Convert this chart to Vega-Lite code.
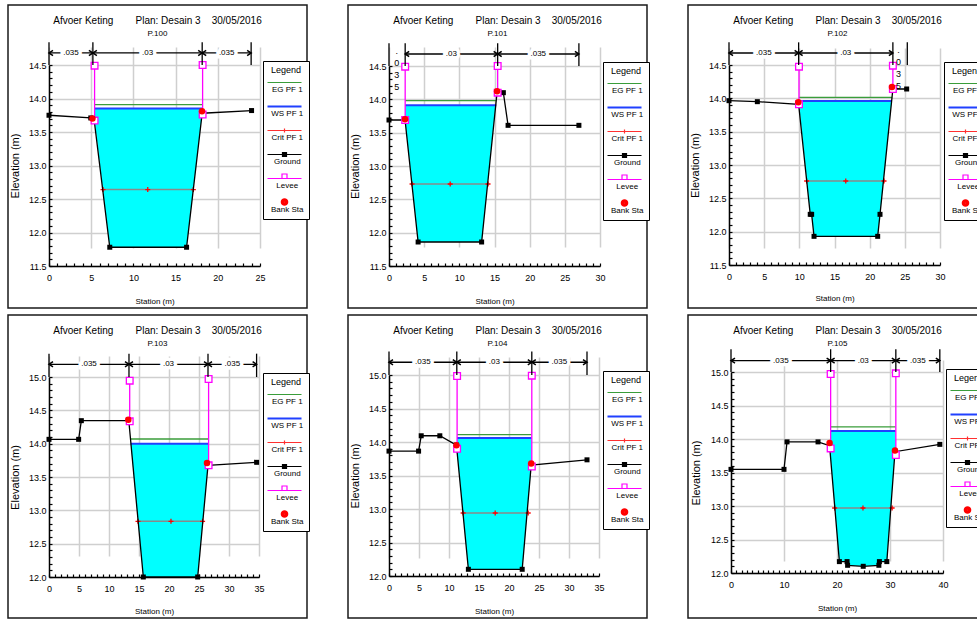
{
"$schema": "https://vega.github.io/schema/vega-lite/v6.json",
"padding": {"left": 7, "top": 4, "right": 0, "bottom": 0},
"background": "white",
"config": {
  "view": {"stroke": "#1a1a1a", "strokeWidth": 1.5, "fill": "white"},
  "font": "Liberation Sans, sans-serif",
  "axis": {"domainColor": "black", "domainWidth": 1.5, "tickColor": "black", "tickWidth": 1.2, "tickSize": -3, "tickCount": 1000, "labelFont": "Liberation Sans, sans-serif", "labelFontSize": 9, "labelColor": "black", "labelOverlap": false, "labelFlush": false, "gridColor": "#cfcfcf", "gridWidth": 1.5, "titleFont": "Liberation Sans, sans-serif", "titleFontSize": 8, "titleFontWeight": "normal", "titleColor": "black"},
  "title": {"anchor": "middle", "frame": "group", "offset": -33, "fontSize": 10, "fontWeight": "normal", "color": "black", "font": "Liberation Sans, sans-serif", "subtitleFont": "Liberation Sans, sans-serif", "subtitleFontSize": 8, "subtitleColor": "black", "subtitlePadding": 4},
  "legend": {"orient": "none", "direction": "vertical", "padding": 5, "strokeColor": "black", "fillColor": "white", "titleFontSize": 9, "titleFontWeight": "normal", "titleColor": "black", "titleAnchor": "middle", "titlePadding": 0, "labelFontSize": 8, "labelColor": "black", "labelAlign": "center", "labelBaseline": "top", "labelOffset": -8.25, "symbolOffset": 5.5, "symbolSize": 400, "symbolStrokeWidth": 1.2, "rowPadding": 5}
},
"data": {"values": [
{"p":1,"k":"g","s":0,"e":13.75},{"p":1,"k":"g","s":4.95,"e":13.71},{"p":1,"k":"g","s":5.35,"e":13.68},{"p":1,"k":"g","s":7.2,"e":11.78},{"p":1,"k":"g","s":16.3,"e":11.78},{"p":1,"k":"g","s":18.15,"e":13.78},{"p":1,"k":"g","s":24,"e":13.82},
{"p":1,"k":"w","s":5.4,"e":13.67,"e2":13.85},{"p":1,"k":"w","s":7.2,"e":11.78,"e2":13.85},{"p":1,"k":"w","s":16.3,"e":11.78,"e2":13.85},{"p":1,"k":"w","s":18.15,"e":13.78,"e2":13.85},{"p":1,"k":"w","s":18.2,"e":13.78,"e2":13.85},
{"p":1,"k":"ws","s":5.4,"s2":18.2,"e":13.85},{"p":1,"k":"eg","s":5.4,"s2":18.2,"e":13.91},
{"p":1,"k":"c","s":6.4,"e":12.64},{"p":1,"k":"c","s":11.7,"e":12.64},{"p":1,"k":"c","s":17.1,"e":12.64},
{"p":1,"k":"lv","s":5.4,"e":13.67,"e2":14.49},{"p":1,"k":"lv","s":18.2,"e":13.76,"e2":14.5},
{"p":1,"k":"b","s":5.15,"e":13.7},{"p":1,"k":"b","s":18.13,"e":13.81},
{"p":1,"k":"nb","s":0,"e":14.5,"e2":14.84},{"p":1,"k":"nb","s":5.2,"e":14.5,"e2":14.84},{"p":1,"k":"nb","s":18.15,"e":14.5,"e2":14.84},{"p":1,"k":"nb","s":23.95,"e":14.5,"e2":14.84},
{"p":1,"k":"ns","s":0,"s2":5.2,"e":14.68,"n":".035"},{"p":1,"k":"ns","s":5.2,"s2":18.15,"e":14.68,"n":".03"},{"p":1,"k":"ns","s":18.15,"s2":23.95,"e":14.68,"n":".035"},

{"p":2,"k":"g","s":0,"e":13.69},{"p":2,"k":"g","s":2.28,"e":13.69},{"p":2,"k":"g","s":4.14,"e":11.86},{"p":2,"k":"g","s":13.17,"e":11.86},{"p":2,"k":"g","s":15.36,"e":14.1},{"p":2,"k":"g","s":16.26,"e":14.1},{"p":2,"k":"g","s":16.93,"e":13.61},{"p":2,"k":"g","s":27,"e":13.61},
{"p":2,"k":"w","s":2.3,"e":13.69,"e2":13.91},{"p":2,"k":"w","s":4.14,"e":11.86,"e2":13.91},{"p":2,"k":"w","s":13.17,"e":11.86,"e2":13.91},{"p":2,"k":"w","s":15.17,"e":13.91,"e2":13.91},
{"p":2,"k":"ws","s":2.3,"s2":15.25,"e":13.91},{"p":2,"k":"eg","s":2.3,"s2":15.25,"e":13.98},
{"p":2,"k":"c","s":3.28,"e":12.73},{"p":2,"k":"c","s":8.7,"e":12.73},{"p":2,"k":"c","s":14.08,"e":12.73},
{"p":2,"k":"lv","s":2.3,"e":13.69,"e2":14.49},{"p":2,"k":"lv","s":15.45,"e":14.1,"e2":14.5},
{"p":2,"k":"b","s":2.28,"e":13.7},{"p":2,"k":"b","s":15.36,"e":14.12},
{"p":2,"k":"nb","s":0,"e":14.5,"e2":14.84},{"p":2,"k":"nb","s":2.3,"e":14.5,"e2":14.84},{"p":2,"k":"nb","s":15.45,"e":14.5,"e2":14.84},{"p":2,"k":"nb","s":27,"e":14.5,"e2":14.84},
{"p":2,"k":"ns","s":2.3,"s2":15.45,"e":14.68,"n":".03"},{"p":2,"k":"ns","s":15.45,"s2":27,"e":14.68,"n":".035"},
{"p":2,"k":"nv","s":1.1,"e":14.78,"n":".035"},

{"p":3,"k":"g","s":0,"e":13.965},{"p":3,"k":"g","s":4.03,"e":13.95},{"p":3,"k":"g","s":9.9,"e":13.91},{"p":3,"k":"g","s":11.55,"e":12.26},{"p":3,"k":"g","s":11.75,"e":12.26},{"p":3,"k":"g","s":12.09,"e":11.93},{"p":3,"k":"g","s":21.14,"e":11.93},{"p":3,"k":"g","s":21.47,"e":12.26},{"p":3,"k":"g","s":23.3,"e":14.14},{"p":3,"k":"g","s":25.26,"e":14.14},
{"p":3,"k":"w","s":9.95,"e":13.91,"e2":13.96},{"p":3,"k":"w","s":11.55,"e":12.26,"e2":13.96},{"p":3,"k":"w","s":11.75,"e":12.26,"e2":13.96},{"p":3,"k":"w","s":12.09,"e":11.93,"e2":13.96},{"p":3,"k":"w","s":21.14,"e":11.93,"e2":13.96},{"p":3,"k":"w","s":21.47,"e":12.26,"e2":13.96},{"p":3,"k":"w","s":23.12,"e":13.96,"e2":13.96},
{"p":3,"k":"ws","s":9.95,"s2":23.15,"e":13.96},{"p":3,"k":"eg","s":9.95,"s2":23.2,"e":14.015},
{"p":3,"k":"c","s":11.04,"e":12.76},{"p":3,"k":"c","s":16.6,"e":12.76},{"p":3,"k":"c","s":22.04,"e":12.76},
{"p":3,"k":"lv","s":9.95,"e":13.91,"e2":14.475},{"p":3,"k":"lv","s":23.3,"e":14.14,"e2":14.49},
{"p":3,"k":"b","s":9.85,"e":13.94},{"p":3,"k":"b","s":23.17,"e":14.17},
{"p":3,"k":"nb","s":0,"e":14.5,"e2":14.84},{"p":3,"k":"nb","s":9.9,"e":14.5,"e2":14.84},{"p":3,"k":"nb","s":23.3,"e":14.5,"e2":14.84},{"p":3,"k":"nb","s":25.35,"e":14.5,"e2":14.84},
{"p":3,"k":"ns","s":0,"s2":9.9,"e":14.68,"n":".035"},{"p":3,"k":"ns","s":9.9,"s2":23.3,"e":14.68,"n":".03"},
{"p":3,"k":"nv","s":24.1,"e":14.78,"n":".035"},

{"p":4,"k":"g","s":0,"e":14.065},{"p":4,"k":"g","s":4.94,"e":14.065},{"p":4,"k":"g","s":5.39,"e":14.345},{"p":4,"k":"g","s":13.3,"e":14.345},{"p":4,"k":"g","s":15.72,"e":12},{"p":4,"k":"g","s":24.78,"e":12},{"p":4,"k":"g","s":26.5,"e":13.675},{"p":4,"k":"g","s":34.6,"e":13.72},
{"p":4,"k":"w","s":13.62,"e":14,"e2":14},{"p":4,"k":"w","s":15.72,"e":12,"e2":14},{"p":4,"k":"w","s":24.78,"e":12,"e2":14},{"p":4,"k":"w","s":26.5,"e":13.675,"e2":14},{"p":4,"k":"w","s":26.6,"e":13.68,"e2":14},
{"p":4,"k":"ws","s":13.62,"s2":26.6,"e":14},{"p":4,"k":"eg","s":13.62,"s2":26.6,"e":14.07},
{"p":4,"k":"c","s":14.83,"e":12.835},{"p":4,"k":"c","s":20.33,"e":12.835},{"p":4,"k":"c","s":25.6,"e":12.835},
{"p":4,"k":"lv","s":13.45,"e":14.335,"e2":14.945},{"p":4,"k":"lv","s":26.6,"e":13.675,"e2":14.97},
{"p":4,"k":"b","s":13.22,"e":14.36},{"p":4,"k":"b","s":26.33,"e":13.71},
{"p":4,"k":"nb","s":0,"e":15,"e2":15.35},{"p":4,"k":"nb","s":13.33,"e":15,"e2":15.35},{"p":4,"k":"nb","s":26.5,"e":15,"e2":15.35},{"p":4,"k":"nb","s":34.6,"e":15,"e2":15.35},
{"p":4,"k":"ns","s":0,"s2":13.33,"e":15.19,"n":".035"},{"p":4,"k":"ns","s":13.33,"s2":26.5,"e":15.19,"n":".03"},{"p":4,"k":"ns","s":26.5,"s2":34.6,"e":15.19,"n":".035"},

{"p":5,"k":"g","s":0,"e":13.864},{"p":5,"k":"g","s":4.93,"e":13.864},{"p":5,"k":"g","s":5.37,"e":14.093},{"p":5,"k":"g","s":8.47,"e":14.093},{"p":5,"k":"g","s":11.24,"e":13.954},{"p":5,"k":"g","s":13.23,"e":12.1},{"p":5,"k":"g","s":22.2,"e":12.1},{"p":5,"k":"g","s":23.7,"e":13.655},{"p":5,"k":"g","s":33,"e":13.734},
{"p":5,"k":"w","s":11.35,"e":13.85,"e2":14.06},{"p":5,"k":"w","s":13.23,"e":12.1,"e2":14.06},{"p":5,"k":"w","s":22.2,"e":12.1,"e2":14.06},{"p":5,"k":"w","s":23.75,"e":13.66,"e2":14.06},
{"p":5,"k":"ws","s":11.35,"s2":23.75,"e":14.06},{"p":5,"k":"eg","s":11.35,"s2":23.75,"e":14.11},
{"p":5,"k":"c","s":12.35,"e":12.94},{"p":5,"k":"c","s":17.7,"e":12.94},{"p":5,"k":"c","s":23.2,"e":12.94},
{"p":5,"k":"lv","s":11.35,"e":13.9,"e2":14.985},{"p":5,"k":"lv","s":23.8,"e":13.635,"e2":14.99},
{"p":5,"k":"b","s":11.24,"e":13.95},{"p":5,"k":"b","s":23.7,"e":13.68},
{"p":5,"k":"nb","s":0,"e":15,"e2":15.35},{"p":5,"k":"nb","s":11.3,"e":15,"e2":15.35},{"p":5,"k":"nb","s":23.8,"e":15,"e2":15.35},{"p":5,"k":"nb","s":33,"e":15,"e2":15.35},
{"p":5,"k":"ns","s":0,"s2":11.3,"e":15.19,"n":".035"},{"p":5,"k":"ns","s":11.3,"s2":23.8,"e":15.19,"n":".03"},{"p":5,"k":"ns","s":23.8,"s2":33,"e":15.19,"n":".035"},

{"p":6,"k":"g","s":0,"e":13.547},{"p":6,"k":"g","s":10,"e":13.547},{"p":6,"k":"g","s":10.57,"e":13.957},{"p":6,"k":"g","s":16.42,"e":13.957},{"p":6,"k":"g","s":18.6,"e":13.9},{"p":6,"k":"g","s":20.45,"e":12.17},{"p":6,"k":"g","s":21.9,"e":12.17},{"p":6,"k":"g","s":22,"e":12.115},{"p":6,"k":"g","s":24.95,"e":12.1},{"p":6,"k":"g","s":27.9,"e":12.115},{"p":6,"k":"g","s":28,"e":12.17},{"p":6,"k":"g","s":29.4,"e":12.17},{"p":6,"k":"g","s":30.94,"e":13.81},{"p":6,"k":"g","s":39.4,"e":13.92},
{"p":6,"k":"w","s":18.8,"e":13.72,"e2":14.12},{"p":6,"k":"w","s":20.45,"e":12.17,"e2":14.12},{"p":6,"k":"w","s":21.9,"e":12.17,"e2":14.12},{"p":6,"k":"w","s":22,"e":12.115,"e2":14.12},{"p":6,"k":"w","s":24.95,"e":12.1,"e2":14.12},{"p":6,"k":"w","s":27.9,"e":12.115,"e2":14.12},{"p":6,"k":"w","s":28,"e":12.17,"e2":14.12},{"p":6,"k":"w","s":29.4,"e":12.17,"e2":14.12},{"p":6,"k":"w","s":30.94,"e":13.81,"e2":14.12},{"p":6,"k":"w","s":31.05,"e":13.81,"e2":14.12},
{"p":6,"k":"ws","s":18.8,"s2":31.05,"e":14.12},{"p":6,"k":"eg","s":18.8,"s2":31.05,"e":14.18},
{"p":6,"k":"c","s":19.56,"e":12.97},{"p":6,"k":"c","s":24.9,"e":12.97},{"p":6,"k":"c","s":30.4,"e":12.97},
{"p":6,"k":"lv","s":18.8,"e":13.86,"e2":14.97},{"p":6,"k":"lv","s":31.1,"e":13.76,"e2":14.98},
{"p":6,"k":"b","s":18.6,"e":13.94},{"p":6,"k":"b","s":30.94,"e":13.83},
{"p":6,"k":"nb","s":0,"e":15,"e2":15.34},{"p":6,"k":"nb","s":18.8,"e":15,"e2":15.34},{"p":6,"k":"nb","s":31.1,"e":15,"e2":15.34},{"p":6,"k":"nb","s":39.4,"e":15,"e2":15.34},
{"p":6,"k":"ns","s":0,"s2":18.8,"e":15.17,"n":".035"},{"p":6,"k":"ns","s":18.8,"s2":31.1,"e":15.17,"n":".03"},{"p":6,"k":"ns","s":31.1,"s2":39.4,"e":15.17,"n":".035"}
]},
"spacing": 5,
"resolve": {"scale": {"color": "independent", "shape": "independent"}, "legend": {"color": "independent", "shape": "independent"}},
"vconcat": [
{"spacing": 41, "bounds": "flush",
 "resolve": {"scale": {"color": "independent", "shape": "independent"}, "legend": {"color": "independent", "shape": "independent"}},
 "hconcat": [
{"width": 299, "height": 303,
 "title": {"text": "Afvoer Keting\u00a0\u00a0\u00a0\u00a0\u00a0\u00a0\u00a0\u00a0Plan: Desain 3\u00a0\u00a0\u00a0\u00a030/05/2016", "subtitle": "P.100"},
 "transform": [{"filter": "datum.p==1"}],
 "layer": [
  {"transform": [{"filter": "datum.k=='w'"}], "mark": {"type": "area", "color": "#00ffff", "opacity": 1},
   "encoding": {
    "x": {"field": "s", "type": "quantitative", "scale": {"domain": [0, 25], "range": [41, 252], "nice": false, "zero": false},
      "axis": {"title": "Station (m)", "offset": -42, "values": [0,1,2,3,4,5,6,7,8,9,10,11,12,13,14,15,16,17,18,19,20,21,22,23,24,25], "labelExpr": "datum.value % 5 === 0 ? format(datum.value,'d') : ''", "gridOpacity": {"condition": {"test": "datum.value % 5 === 0", "value": 1}, "value": 0}, "labelPadding": 10, "titleY": 35, "titleBaseline": "middle"}},
    "y": {"field": "e", "type": "quantitative", "scale": {"domain": [11.5, 14.5], "range": [261, 60], "nice": false, "zero": false},
      "axis": {"title": "Elevation  (m)", "titleFontSize": 11, "offset": -41, "values": [11.5,11.6,11.7,11.8,11.9,12,12.1,12.2,12.3,12.4,12.5,12.6,12.7,12.8,12.9,13,13.1,13.2,13.3,13.4,13.5,13.6,13.7,13.8,13.9,14,14.1,14.2,14.3,14.4,14.5], "labelExpr": "abs(datum.value*2-round(datum.value*2))<0.01 ? format(datum.value,'.1f') : ''", "gridOpacity": {"condition": {"test": "abs(datum.value*2-round(datum.value*2))<0.01", "value": 1}, "value": 0}, "labelPadding": 6, "titleX": -34, "titleBaseline": "middle"}},
    "y2": {"field": "e2"}}},
  {"transform": [{"filter": "datum.k=='c'"}], "mark": {"type": "line", "color": "#8a8a8a", "strokeWidth": 1.5, "point": {"shape": "M-1,0H1M0,-1V1", "filled": false, "color": "#ff0000", "size": 25, "strokeWidth": 1.3}}, "encoding": {"x": {"field": "s", "type": "quantitative"}, "y": {"field": "e", "type": "quantitative"}}},
  {"transform": [{"filter": "datum.k=='ws'"}], "mark": {"type": "rule", "color": "#2040ff", "strokeWidth": 2}, "encoding": {"x": {"field": "s", "type": "quantitative"}, "x2": {"field": "s2"}, "y": {"field": "e", "type": "quantitative"}}},
  {"transform": [{"filter": "datum.k=='eg'"}], "mark": {"type": "rule", "color": "#3a9d3a", "strokeWidth": 1.3}, "encoding": {"x": {"field": "s", "type": "quantitative"}, "x2": {"field": "s2"}, "y": {"field": "e", "type": "quantitative"}}},
  {"transform": [{"filter": "datum.k=='g'"}], "mark": {"type": "line", "color": "black", "strokeWidth": 1.3, "point": {"shape": "square", "filled": true, "color": "black", "size": 25}}, "encoding": {"x": {"field": "s", "type": "quantitative"}, "y": {"field": "e", "type": "quantitative"}}},
  {"transform": [{"filter": "datum.k=='lv'"}], "mark": {"type": "rule", "color": "#ff00ff", "strokeWidth": 1.3}, "encoding": {"x": {"field": "s", "type": "quantitative"}, "y": {"field": "e", "type": "quantitative"}, "y2": {"field": "e2"}}},
  {"transform": [{"filter": "datum.k=='lv'"}, {"fold": ["e", "e2"], "as": ["end", "ev"]}], "mark": {"type": "point", "shape": "square", "filled": true, "fill": "white", "stroke": "#ff00ff", "strokeWidth": 1.3, "size": 45, "opacity": 1}, "encoding": {"x": {"field": "s", "type": "quantitative"}, "y": {"field": "ev", "type": "quantitative"}}},
  {"transform": [{"filter": "datum.k=='b'"}], "mark": {"type": "point", "shape": "circle", "filled": true, "color": "#ff0000", "size": 42, "opacity": 1}, "encoding": {"x": {"field": "s", "type": "quantitative"}, "y": {"field": "e", "type": "quantitative"}}},
  {"transform": [{"filter": "datum.k=='nb'"}], "mark": {"type": "rule", "color": "black", "strokeWidth": 1.3}, "encoding": {"x": {"field": "s", "type": "quantitative"}, "y": {"field": "e", "type": "quantitative"}, "y2": {"field": "e2"}}},
  {"transform": [{"filter": "datum.k=='ns'"}], "mark": {"type": "rule", "color": "black", "strokeWidth": 1.3}, "encoding": {"x": {"field": "s", "type": "quantitative"}, "x2": {"field": "s2"}, "y": {"field": "e", "type": "quantitative"}}},
  {"transform": [{"filter": "datum.k=='ns'"}], "mark": {"type": "point", "shape": "M2,-1.3L0,0L2,1.3", "filled": false, "color": "black", "strokeWidth": 1.5, "size": 16, "opacity": 1}, "encoding": {"x": {"field": "s", "type": "quantitative"}, "y": {"field": "e", "type": "quantitative"}}},
  {"transform": [{"filter": "datum.k=='ns'"}], "mark": {"type": "point", "shape": "M-2,-1.3L0,0L-2,1.3", "filled": false, "color": "black", "strokeWidth": 1.5, "size": 16, "opacity": 1}, "encoding": {"x": {"field": "s2", "type": "quantitative"}, "y": {"field": "e", "type": "quantitative"}}},
  {"transform": [{"filter": "datum.k=='ns'"}, {"calculate": "(datum.s+datum.s2)/2", "as": "sm"}], "mark": {"type": "text", "fontSize": 8, "fill": "white", "stroke": "white", "strokeWidth": 7, "baseline": "middle"}, "encoding": {"x": {"field": "sm", "type": "quantitative"}, "y": {"field": "e", "type": "quantitative"}, "text": {"field": "n"}}},
  {"transform": [{"filter": "datum.k=='ns'"}, {"calculate": "(datum.s+datum.s2)/2", "as": "sm"}], "mark": {"type": "text", "fontSize": 8, "color": "black", "baseline": "middle"}, "encoding": {"x": {"field": "sm", "type": "quantitative"}, "y": {"field": "e", "type": "quantitative"}, "text": {"field": "n"}}},
  {"transform": [{"filter": "datum.k=='nv'"}, {"calculate": "split(datum.n,'')", "as": "chars"}], "mark": {"type": "text", "fontSize": 9, "color": "black", "baseline": "top", "lineHeight": 12}, "encoding": {"x": {"field": "s", "type": "quantitative"}, "y": {"field": "e", "type": "quantitative"}, "text": {"field": "chars"}}},
  {"transform": [{"filter": "datum.k=='none'"}], "mark": {"type": "point", "filled": false, "opacity": 1, "strokeWidth": 1.2},
   "encoding": {
    "color": {"datum": "Bank Sta", "type": "nominal", "scale": {"domain": ["EG PF 1", "WS PF 1", "Crit PF 1", "Ground", "Levee", "Bank Sta"], "range": ["#3a9d3a", "#2040ff", "#ff3030", "#000000", "#ff00ff", "#ff0000"]}, "legend": {"title": "Legend", "legendX": 255, "legendY": 56}},
    "shape": {"datum": "Bank Sta", "type": "nominal", "scale": {"domain": ["EG PF 1", "WS PF 1", "Crit PF 1", "Ground", "Levee", "Bank Sta"], "range": ["M-1.7,-0.35H1.7", "M-1.7,-0.4H1.7M-1.7,-0.3H1.7", "M-1.7,-0.35H1.7M0,-0.55V-0.15", "M-1.7,-0.35H1.7M-0.2,-0.55H0.2V-0.15H-0.2ZM-0.1,-0.45H0.1V-0.25H-0.1Z", "M-1.7,-0.35H-0.25M0.25,-0.35H1.7M-0.25,-0.8H0.25V-0.35H-0.25Z", "M0.32,-0.4A0.32,0.32,0,1,1,-0.32,-0.4A0.32,0.32,0,1,1,0.32,-0.4ZM0.2,-0.4A0.2,0.2,0,1,1,-0.2,-0.4A0.2,0.2,0,1,1,0.2,-0.4ZM0.08,-0.4A0.08,0.08,0,1,1,-0.08,-0.4A0.08,0.08,0,1,1,0.08,-0.4Z"]}, "legend": {"title": "Legend", "legendX": 255, "legendY": 56}}}}
 ]},
{"width": 299, "height": 303,
 "title": {"text": "Afvoer Keting\u00a0\u00a0\u00a0\u00a0\u00a0\u00a0\u00a0\u00a0Plan: Desain 3\u00a0\u00a0\u00a0\u00a030/05/2016", "subtitle": "P.101"},
 "transform": [{"filter": "datum.p==2"}],
 "layer": [
  {"transform": [{"filter": "datum.k=='w'"}], "mark": {"type": "area", "color": "#00ffff", "opacity": 1},
   "encoding": {
    "x": {"field": "s", "type": "quantitative", "scale": {"domain": [0, 30], "range": [41, 252], "nice": false, "zero": false},
      "axis": {"title": "Station (m)", "offset": -42, "values": [0,1,2,3,4,5,6,7,8,9,10,11,12,13,14,15,16,17,18,19,20,21,22,23,24,25,26,27,28,29,30], "labelExpr": "datum.value % 5 === 0 ? format(datum.value,'d') : ''", "gridOpacity": {"condition": {"test": "datum.value % 5 === 0", "value": 1}, "value": 0}, "labelPadding": 10, "titleY": 35, "titleBaseline": "middle"}},
    "y": {"field": "e", "type": "quantitative", "scale": {"domain": [11.5, 14.5], "range": [261, 61], "nice": false, "zero": false},
      "axis": {"title": "Elevation  (m)", "titleFontSize": 11, "offset": -41, "values": [11.5,11.6,11.7,11.8,11.9,12,12.1,12.2,12.3,12.4,12.5,12.6,12.7,12.8,12.9,13,13.1,13.2,13.3,13.4,13.5,13.6,13.7,13.8,13.9,14,14.1,14.2,14.3,14.4,14.5], "labelExpr": "abs(datum.value*2-round(datum.value*2))<0.01 ? format(datum.value,'.1f') : ''", "gridOpacity": {"condition": {"test": "abs(datum.value*2-round(datum.value*2))<0.01", "value": 1}, "value": 0}, "labelPadding": 6, "titleX": -34, "titleBaseline": "middle"}},
    "y2": {"field": "e2"}}},
  {"transform": [{"filter": "datum.k=='c'"}], "mark": {"type": "line", "color": "#8a8a8a", "strokeWidth": 1.5, "point": {"shape": "M-1,0H1M0,-1V1", "filled": false, "color": "#ff0000", "size": 25, "strokeWidth": 1.3}}, "encoding": {"x": {"field": "s", "type": "quantitative"}, "y": {"field": "e", "type": "quantitative"}}},
  {"transform": [{"filter": "datum.k=='ws'"}], "mark": {"type": "rule", "color": "#2040ff", "strokeWidth": 2}, "encoding": {"x": {"field": "s", "type": "quantitative"}, "x2": {"field": "s2"}, "y": {"field": "e", "type": "quantitative"}}},
  {"transform": [{"filter": "datum.k=='eg'"}], "mark": {"type": "rule", "color": "#3a9d3a", "strokeWidth": 1.3}, "encoding": {"x": {"field": "s", "type": "quantitative"}, "x2": {"field": "s2"}, "y": {"field": "e", "type": "quantitative"}}},
  {"transform": [{"filter": "datum.k=='g'"}], "mark": {"type": "line", "color": "black", "strokeWidth": 1.3, "point": {"shape": "square", "filled": true, "color": "black", "size": 25}}, "encoding": {"x": {"field": "s", "type": "quantitative"}, "y": {"field": "e", "type": "quantitative"}}},
  {"transform": [{"filter": "datum.k=='lv'"}], "mark": {"type": "rule", "color": "#ff00ff", "strokeWidth": 1.3}, "encoding": {"x": {"field": "s", "type": "quantitative"}, "y": {"field": "e", "type": "quantitative"}, "y2": {"field": "e2"}}},
  {"transform": [{"filter": "datum.k=='lv'"}, {"fold": ["e", "e2"], "as": ["end", "ev"]}], "mark": {"type": "point", "shape": "square", "filled": true, "fill": "white", "stroke": "#ff00ff", "strokeWidth": 1.3, "size": 45, "opacity": 1}, "encoding": {"x": {"field": "s", "type": "quantitative"}, "y": {"field": "ev", "type": "quantitative"}}},
  {"transform": [{"filter": "datum.k=='b'"}], "mark": {"type": "point", "shape": "circle", "filled": true, "color": "#ff0000", "size": 42, "opacity": 1}, "encoding": {"x": {"field": "s", "type": "quantitative"}, "y": {"field": "e", "type": "quantitative"}}},
  {"transform": [{"filter": "datum.k=='nb'"}], "mark": {"type": "rule", "color": "black", "strokeWidth": 1.3}, "encoding": {"x": {"field": "s", "type": "quantitative"}, "y": {"field": "e", "type": "quantitative"}, "y2": {"field": "e2"}}},
  {"transform": [{"filter": "datum.k=='ns'"}], "mark": {"type": "rule", "color": "black", "strokeWidth": 1.3}, "encoding": {"x": {"field": "s", "type": "quantitative"}, "x2": {"field": "s2"}, "y": {"field": "e", "type": "quantitative"}}},
  {"transform": [{"filter": "datum.k=='ns'"}], "mark": {"type": "point", "shape": "M2,-1.3L0,0L2,1.3", "filled": false, "color": "black", "strokeWidth": 1.5, "size": 16, "opacity": 1}, "encoding": {"x": {"field": "s", "type": "quantitative"}, "y": {"field": "e", "type": "quantitative"}}},
  {"transform": [{"filter": "datum.k=='ns'"}], "mark": {"type": "point", "shape": "M-2,-1.3L0,0L-2,1.3", "filled": false, "color": "black", "strokeWidth": 1.5, "size": 16, "opacity": 1}, "encoding": {"x": {"field": "s2", "type": "quantitative"}, "y": {"field": "e", "type": "quantitative"}}},
  {"transform": [{"filter": "datum.k=='ns'"}, {"calculate": "(datum.s+datum.s2)/2", "as": "sm"}], "mark": {"type": "text", "fontSize": 8, "fill": "white", "stroke": "white", "strokeWidth": 7, "baseline": "middle"}, "encoding": {"x": {"field": "sm", "type": "quantitative"}, "y": {"field": "e", "type": "quantitative"}, "text": {"field": "n"}}},
  {"transform": [{"filter": "datum.k=='ns'"}, {"calculate": "(datum.s+datum.s2)/2", "as": "sm"}], "mark": {"type": "text", "fontSize": 8, "color": "black", "baseline": "middle"}, "encoding": {"x": {"field": "sm", "type": "quantitative"}, "y": {"field": "e", "type": "quantitative"}, "text": {"field": "n"}}},
  {"transform": [{"filter": "datum.k=='nv'"}, {"calculate": "split(datum.n,'')", "as": "chars"}], "mark": {"type": "text", "fontSize": 9, "color": "black", "baseline": "top", "lineHeight": 12}, "encoding": {"x": {"field": "s", "type": "quantitative"}, "y": {"field": "e", "type": "quantitative"}, "text": {"field": "chars"}}},
  {"transform": [{"filter": "datum.k=='none'"}], "mark": {"type": "point", "filled": false, "opacity": 1, "strokeWidth": 1.2},
   "encoding": {
    "color": {"datum": "Bank Sta", "type": "nominal", "scale": {"domain": ["EG PF 1", "WS PF 1", "Crit PF 1", "Ground", "Levee", "Bank Sta"], "range": ["#3a9d3a", "#2040ff", "#ff3030", "#000000", "#ff00ff", "#ff0000"]}, "legend": {"title": "Legend", "legendX": 255, "legendY": 57}},
    "shape": {"datum": "Bank Sta", "type": "nominal", "scale": {"domain": ["EG PF 1", "WS PF 1", "Crit PF 1", "Ground", "Levee", "Bank Sta"], "range": ["M-1.7,-0.35H1.7", "M-1.7,-0.4H1.7M-1.7,-0.3H1.7", "M-1.7,-0.35H1.7M0,-0.55V-0.15", "M-1.7,-0.35H1.7M-0.2,-0.55H0.2V-0.15H-0.2ZM-0.1,-0.45H0.1V-0.25H-0.1Z", "M-1.7,-0.35H-0.25M0.25,-0.35H1.7M-0.25,-0.8H0.25V-0.35H-0.25Z", "M0.32,-0.4A0.32,0.32,0,1,1,-0.32,-0.4A0.32,0.32,0,1,1,0.32,-0.4ZM0.2,-0.4A0.2,0.2,0,1,1,-0.2,-0.4A0.2,0.2,0,1,1,0.2,-0.4ZM0.08,-0.4A0.08,0.08,0,1,1,-0.08,-0.4A0.08,0.08,0,1,1,0.08,-0.4Z"]}, "legend": {"title": "Legend", "legendX": 255, "legendY": 57}}}}
 ]},
{"width": 299, "height": 303,
 "title": {"text": "Afvoer Keting\u00a0\u00a0\u00a0\u00a0\u00a0\u00a0\u00a0\u00a0Plan: Desain 3\u00a0\u00a0\u00a0\u00a030/05/2016", "subtitle": "P.102"},
 "transform": [{"filter": "datum.p==3"}],
 "layer": [
  {"transform": [{"filter": "datum.k=='w'"}], "mark": {"type": "area", "color": "#00ffff", "opacity": 1},
   "encoding": {
    "x": {"field": "s", "type": "quantitative", "scale": {"domain": [0, 30], "range": [41, 252], "nice": false, "zero": false},
      "axis": {"title": "Station (m)", "offset": -43, "values": [0,1,2,3,4,5,6,7,8,9,10,11,12,13,14,15,16,17,18,19,20,21,22,23,24,25,26,27,28,29,30], "labelExpr": "datum.value % 5 === 0 ? format(datum.value,'d') : ''", "gridOpacity": {"condition": {"test": "datum.value % 5 === 0", "value": 1}, "value": 0}, "labelPadding": 10, "titleY": 33, "titleBaseline": "middle"}},
    "y": {"field": "e", "type": "quantitative", "scale": {"domain": [11.5, 14.5], "range": [260, 60], "nice": false, "zero": false},
      "axis": {"title": "Elevation  (m)", "titleFontSize": 11, "offset": -41, "values": [11.5,11.6,11.7,11.8,11.9,12,12.1,12.2,12.3,12.4,12.5,12.6,12.7,12.8,12.9,13,13.1,13.2,13.3,13.4,13.5,13.6,13.7,13.8,13.9,14,14.1,14.2,14.3,14.4,14.5], "labelExpr": "abs(datum.value*2-round(datum.value*2))<0.01 ? format(datum.value,'.1f') : ''", "gridOpacity": {"condition": {"test": "abs(datum.value*2-round(datum.value*2))<0.01", "value": 1}, "value": 0}, "labelPadding": 6, "titleX": -34, "titleBaseline": "middle"}},
    "y2": {"field": "e2"}}},
  {"transform": [{"filter": "datum.k=='c'"}], "mark": {"type": "line", "color": "#8a8a8a", "strokeWidth": 1.5, "point": {"shape": "M-1,0H1M0,-1V1", "filled": false, "color": "#ff0000", "size": 25, "strokeWidth": 1.3}}, "encoding": {"x": {"field": "s", "type": "quantitative"}, "y": {"field": "e", "type": "quantitative"}}},
  {"transform": [{"filter": "datum.k=='ws'"}], "mark": {"type": "rule", "color": "#2040ff", "strokeWidth": 2}, "encoding": {"x": {"field": "s", "type": "quantitative"}, "x2": {"field": "s2"}, "y": {"field": "e", "type": "quantitative"}}},
  {"transform": [{"filter": "datum.k=='eg'"}], "mark": {"type": "rule", "color": "#3a9d3a", "strokeWidth": 1.3}, "encoding": {"x": {"field": "s", "type": "quantitative"}, "x2": {"field": "s2"}, "y": {"field": "e", "type": "quantitative"}}},
  {"transform": [{"filter": "datum.k=='g'"}], "mark": {"type": "line", "color": "black", "strokeWidth": 1.3, "point": {"shape": "square", "filled": true, "color": "black", "size": 25}}, "encoding": {"x": {"field": "s", "type": "quantitative"}, "y": {"field": "e", "type": "quantitative"}}},
  {"transform": [{"filter": "datum.k=='lv'"}], "mark": {"type": "rule", "color": "#ff00ff", "strokeWidth": 1.3}, "encoding": {"x": {"field": "s", "type": "quantitative"}, "y": {"field": "e", "type": "quantitative"}, "y2": {"field": "e2"}}},
  {"transform": [{"filter": "datum.k=='lv'"}, {"fold": ["e", "e2"], "as": ["end", "ev"]}], "mark": {"type": "point", "shape": "square", "filled": true, "fill": "white", "stroke": "#ff00ff", "strokeWidth": 1.3, "size": 45, "opacity": 1}, "encoding": {"x": {"field": "s", "type": "quantitative"}, "y": {"field": "ev", "type": "quantitative"}}},
  {"transform": [{"filter": "datum.k=='b'"}], "mark": {"type": "point", "shape": "circle", "filled": true, "color": "#ff0000", "size": 42, "opacity": 1}, "encoding": {"x": {"field": "s", "type": "quantitative"}, "y": {"field": "e", "type": "quantitative"}}},
  {"transform": [{"filter": "datum.k=='nb'"}], "mark": {"type": "rule", "color": "black", "strokeWidth": 1.3}, "encoding": {"x": {"field": "s", "type": "quantitative"}, "y": {"field": "e", "type": "quantitative"}, "y2": {"field": "e2"}}},
  {"transform": [{"filter": "datum.k=='ns'"}], "mark": {"type": "rule", "color": "black", "strokeWidth": 1.3}, "encoding": {"x": {"field": "s", "type": "quantitative"}, "x2": {"field": "s2"}, "y": {"field": "e", "type": "quantitative"}}},
  {"transform": [{"filter": "datum.k=='ns'"}], "mark": {"type": "point", "shape": "M2,-1.3L0,0L2,1.3", "filled": false, "color": "black", "strokeWidth": 1.5, "size": 16, "opacity": 1}, "encoding": {"x": {"field": "s", "type": "quantitative"}, "y": {"field": "e", "type": "quantitative"}}},
  {"transform": [{"filter": "datum.k=='ns'"}], "mark": {"type": "point", "shape": "M-2,-1.3L0,0L-2,1.3", "filled": false, "color": "black", "strokeWidth": 1.5, "size": 16, "opacity": 1}, "encoding": {"x": {"field": "s2", "type": "quantitative"}, "y": {"field": "e", "type": "quantitative"}}},
  {"transform": [{"filter": "datum.k=='ns'"}, {"calculate": "(datum.s+datum.s2)/2", "as": "sm"}], "mark": {"type": "text", "fontSize": 8, "fill": "white", "stroke": "white", "strokeWidth": 7, "baseline": "middle"}, "encoding": {"x": {"field": "sm", "type": "quantitative"}, "y": {"field": "e", "type": "quantitative"}, "text": {"field": "n"}}},
  {"transform": [{"filter": "datum.k=='ns'"}, {"calculate": "(datum.s+datum.s2)/2", "as": "sm"}], "mark": {"type": "text", "fontSize": 8, "color": "black", "baseline": "middle"}, "encoding": {"x": {"field": "sm", "type": "quantitative"}, "y": {"field": "e", "type": "quantitative"}, "text": {"field": "n"}}},
  {"transform": [{"filter": "datum.k=='nv'"}, {"calculate": "split(datum.n,'')", "as": "chars"}], "mark": {"type": "text", "fontSize": 9, "color": "black", "baseline": "top", "lineHeight": 12}, "encoding": {"x": {"field": "s", "type": "quantitative"}, "y": {"field": "e", "type": "quantitative"}, "text": {"field": "chars"}}},
  {"transform": [{"filter": "datum.k=='none'"}], "mark": {"type": "point", "filled": false, "opacity": 1, "strokeWidth": 1.2},
   "encoding": {
    "color": {"datum": "Bank Sta", "type": "nominal", "scale": {"domain": ["EG PF 1", "WS PF 1", "Crit PF 1", "Ground", "Levee", "Bank Sta"], "range": ["#3a9d3a", "#2040ff", "#ff3030", "#000000", "#ff00ff", "#ff0000"]}, "legend": {"title": "Legend", "legendX": 256, "legendY": 57}},
    "shape": {"datum": "Bank Sta", "type": "nominal", "scale": {"domain": ["EG PF 1", "WS PF 1", "Crit PF 1", "Ground", "Levee", "Bank Sta"], "range": ["M-1.7,-0.35H1.7", "M-1.7,-0.4H1.7M-1.7,-0.3H1.7", "M-1.7,-0.35H1.7M0,-0.55V-0.15", "M-1.7,-0.35H1.7M-0.2,-0.55H0.2V-0.15H-0.2ZM-0.1,-0.45H0.1V-0.25H-0.1Z", "M-1.7,-0.35H-0.25M0.25,-0.35H1.7M-0.25,-0.8H0.25V-0.35H-0.25Z", "M0.32,-0.4A0.32,0.32,0,1,1,-0.32,-0.4A0.32,0.32,0,1,1,0.32,-0.4ZM0.2,-0.4A0.2,0.2,0,1,1,-0.2,-0.4A0.2,0.2,0,1,1,0.2,-0.4ZM0.08,-0.4A0.08,0.08,0,1,1,-0.08,-0.4A0.08,0.08,0,1,1,0.08,-0.4Z"]}, "legend": {"title": "Legend", "legendX": 256, "legendY": 57}}}}
 ]}
]},
{"spacing": 41, "bounds": "flush",
 "resolve": {"scale": {"color": "independent", "shape": "independent"}, "legend": {"color": "independent", "shape": "independent"}},
 "hconcat": [
{"width": 299, "height": 303,
 "title": {"text": "Afvoer Keting\u00a0\u00a0\u00a0\u00a0\u00a0\u00a0\u00a0\u00a0Plan: Desain 3\u00a0\u00a0\u00a0\u00a030/05/2016", "subtitle": "P.103"},
 "transform": [{"filter": "datum.p==4"}],
 "layer": [
  {"transform": [{"filter": "datum.k=='w'"}], "mark": {"type": "area", "color": "#00ffff", "opacity": 1},
   "encoding": {
    "x": {"field": "s", "type": "quantitative", "scale": {"domain": [0, 35], "range": [41, 251], "nice": false, "zero": false},
      "axis": {"title": "Station (m)", "offset": -41, "values": [0,1,2,3,4,5,6,7,8,9,10,11,12,13,14,15,16,17,18,19,20,21,22,23,24,25,26,27,28,29,30,31,32,33,34,35], "labelExpr": "datum.value % 5 === 0 ? format(datum.value,'d') : ''", "gridOpacity": {"condition": {"test": "datum.value % 5 === 0", "value": 1}, "value": 0}, "labelPadding": 10, "titleY": 34, "titleBaseline": "middle"}},
    "y": {"field": "e", "type": "quantitative", "scale": {"domain": [12, 15], "range": [262, 62], "nice": false, "zero": false},
      "axis": {"title": "Elevation  (m)", "titleFontSize": 11, "offset": -41, "values": [12,12.1,12.2,12.3,12.4,12.5,12.6,12.7,12.8,12.9,13,13.1,13.2,13.3,13.4,13.5,13.6,13.7,13.8,13.9,14,14.1,14.2,14.3,14.4,14.5,14.6,14.7,14.8,14.9,15], "labelExpr": "abs(datum.value*2-round(datum.value*2))<0.01 ? format(datum.value,'.1f') : ''", "gridOpacity": {"condition": {"test": "abs(datum.value*2-round(datum.value*2))<0.01", "value": 1}, "value": 0}, "labelPadding": 6, "titleX": -34, "titleBaseline": "middle"}},
    "y2": {"field": "e2"}}},
  {"transform": [{"filter": "datum.k=='c'"}], "mark": {"type": "line", "color": "#8a8a8a", "strokeWidth": 1.5, "point": {"shape": "M-1,0H1M0,-1V1", "filled": false, "color": "#ff0000", "size": 25, "strokeWidth": 1.3}}, "encoding": {"x": {"field": "s", "type": "quantitative"}, "y": {"field": "e", "type": "quantitative"}}},
  {"transform": [{"filter": "datum.k=='ws'"}], "mark": {"type": "rule", "color": "#2040ff", "strokeWidth": 2}, "encoding": {"x": {"field": "s", "type": "quantitative"}, "x2": {"field": "s2"}, "y": {"field": "e", "type": "quantitative"}}},
  {"transform": [{"filter": "datum.k=='eg'"}], "mark": {"type": "rule", "color": "#3a9d3a", "strokeWidth": 1.3}, "encoding": {"x": {"field": "s", "type": "quantitative"}, "x2": {"field": "s2"}, "y": {"field": "e", "type": "quantitative"}}},
  {"transform": [{"filter": "datum.k=='g'"}], "mark": {"type": "line", "color": "black", "strokeWidth": 1.3, "point": {"shape": "square", "filled": true, "color": "black", "size": 25}}, "encoding": {"x": {"field": "s", "type": "quantitative"}, "y": {"field": "e", "type": "quantitative"}}},
  {"transform": [{"filter": "datum.k=='lv'"}], "mark": {"type": "rule", "color": "#ff00ff", "strokeWidth": 1.3}, "encoding": {"x": {"field": "s", "type": "quantitative"}, "y": {"field": "e", "type": "quantitative"}, "y2": {"field": "e2"}}},
  {"transform": [{"filter": "datum.k=='lv'"}, {"fold": ["e", "e2"], "as": ["end", "ev"]}], "mark": {"type": "point", "shape": "square", "filled": true, "fill": "white", "stroke": "#ff00ff", "strokeWidth": 1.3, "size": 45, "opacity": 1}, "encoding": {"x": {"field": "s", "type": "quantitative"}, "y": {"field": "ev", "type": "quantitative"}}},
  {"transform": [{"filter": "datum.k=='b'"}], "mark": {"type": "point", "shape": "circle", "filled": true, "color": "#ff0000", "size": 42, "opacity": 1}, "encoding": {"x": {"field": "s", "type": "quantitative"}, "y": {"field": "e", "type": "quantitative"}}},
  {"transform": [{"filter": "datum.k=='nb'"}], "mark": {"type": "rule", "color": "black", "strokeWidth": 1.3}, "encoding": {"x": {"field": "s", "type": "quantitative"}, "y": {"field": "e", "type": "quantitative"}, "y2": {"field": "e2"}}},
  {"transform": [{"filter": "datum.k=='ns'"}], "mark": {"type": "rule", "color": "black", "strokeWidth": 1.3}, "encoding": {"x": {"field": "s", "type": "quantitative"}, "x2": {"field": "s2"}, "y": {"field": "e", "type": "quantitative"}}},
  {"transform": [{"filter": "datum.k=='ns'"}], "mark": {"type": "point", "shape": "M2,-1.3L0,0L2,1.3", "filled": false, "color": "black", "strokeWidth": 1.5, "size": 16, "opacity": 1}, "encoding": {"x": {"field": "s", "type": "quantitative"}, "y": {"field": "e", "type": "quantitative"}}},
  {"transform": [{"filter": "datum.k=='ns'"}], "mark": {"type": "point", "shape": "M-2,-1.3L0,0L-2,1.3", "filled": false, "color": "black", "strokeWidth": 1.5, "size": 16, "opacity": 1}, "encoding": {"x": {"field": "s2", "type": "quantitative"}, "y": {"field": "e", "type": "quantitative"}}},
  {"transform": [{"filter": "datum.k=='ns'"}, {"calculate": "(datum.s+datum.s2)/2", "as": "sm"}], "mark": {"type": "text", "fontSize": 8, "fill": "white", "stroke": "white", "strokeWidth": 7, "baseline": "middle"}, "encoding": {"x": {"field": "sm", "type": "quantitative"}, "y": {"field": "e", "type": "quantitative"}, "text": {"field": "n"}}},
  {"transform": [{"filter": "datum.k=='ns'"}, {"calculate": "(datum.s+datum.s2)/2", "as": "sm"}], "mark": {"type": "text", "fontSize": 8, "color": "black", "baseline": "middle"}, "encoding": {"x": {"field": "sm", "type": "quantitative"}, "y": {"field": "e", "type": "quantitative"}, "text": {"field": "n"}}},
  {"transform": [{"filter": "datum.k=='none'"}], "mark": {"type": "point", "filled": false, "opacity": 1, "strokeWidth": 1.2},
   "encoding": {
    "color": {"datum": "Bank Sta", "type": "nominal", "scale": {"domain": ["EG PF 1", "WS PF 1", "Crit PF 1", "Ground", "Levee", "Bank Sta"], "range": ["#3a9d3a", "#2040ff", "#ff3030", "#000000", "#ff00ff", "#ff0000"]}, "legend": {"title": "Legend", "legendX": 255, "legendY": 58}},
    "shape": {"datum": "Bank Sta", "type": "nominal", "scale": {"domain": ["EG PF 1", "WS PF 1", "Crit PF 1", "Ground", "Levee", "Bank Sta"], "range": ["M-1.7,-0.35H1.7", "M-1.7,-0.4H1.7M-1.7,-0.3H1.7", "M-1.7,-0.35H1.7M0,-0.55V-0.15", "M-1.7,-0.35H1.7M-0.2,-0.55H0.2V-0.15H-0.2ZM-0.1,-0.45H0.1V-0.25H-0.1Z", "M-1.7,-0.35H-0.25M0.25,-0.35H1.7M-0.25,-0.8H0.25V-0.35H-0.25Z", "M0.32,-0.4A0.32,0.32,0,1,1,-0.32,-0.4A0.32,0.32,0,1,1,0.32,-0.4ZM0.2,-0.4A0.2,0.2,0,1,1,-0.2,-0.4A0.2,0.2,0,1,1,0.2,-0.4ZM0.08,-0.4A0.08,0.08,0,1,1,-0.08,-0.4A0.08,0.08,0,1,1,0.08,-0.4Z"]}, "legend": {"title": "Legend", "legendX": 255, "legendY": 58}}}}
 ]},
{"width": 299, "height": 303,
 "title": {"text": "Afvoer Keting\u00a0\u00a0\u00a0\u00a0\u00a0\u00a0\u00a0\u00a0Plan: Desain 3\u00a0\u00a0\u00a0\u00a030/05/2016", "subtitle": "P.104"},
 "transform": [{"filter": "datum.p==5"}],
 "layer": [
  {"transform": [{"filter": "datum.k=='w'"}], "mark": {"type": "area", "color": "#00ffff", "opacity": 1},
   "encoding": {
    "x": {"field": "s", "type": "quantitative", "scale": {"domain": [0, 35], "range": [41, 251], "nice": false, "zero": false},
      "axis": {"title": "Station (m)", "offset": -42, "values": [0,1,2,3,4,5,6,7,8,9,10,11,12,13,14,15,16,17,18,19,20,21,22,23,24,25,26,27,28,29,30,31,32,33,34,35], "labelExpr": "datum.value % 5 === 0 ? format(datum.value,'d') : ''", "gridOpacity": {"condition": {"test": "datum.value % 5 === 0", "value": 1}, "value": 0}, "labelPadding": 10, "titleY": 35, "titleBaseline": "middle"}},
    "y": {"field": "e", "type": "quantitative", "scale": {"domain": [12, 15], "range": [261, 60], "nice": false, "zero": false},
      "axis": {"title": "Elevation  (m)", "titleFontSize": 11, "offset": -41, "values": [12,12.1,12.2,12.3,12.4,12.5,12.6,12.7,12.8,12.9,13,13.1,13.2,13.3,13.4,13.5,13.6,13.7,13.8,13.9,14,14.1,14.2,14.3,14.4,14.5,14.6,14.7,14.8,14.9,15], "labelExpr": "abs(datum.value*2-round(datum.value*2))<0.01 ? format(datum.value,'.1f') : ''", "gridOpacity": {"condition": {"test": "abs(datum.value*2-round(datum.value*2))<0.01", "value": 1}, "value": 0}, "labelPadding": 6, "titleX": -34, "titleBaseline": "middle"}},
    "y2": {"field": "e2"}}},
  {"transform": [{"filter": "datum.k=='c'"}], "mark": {"type": "line", "color": "#8a8a8a", "strokeWidth": 1.5, "point": {"shape": "M-1,0H1M0,-1V1", "filled": false, "color": "#ff0000", "size": 25, "strokeWidth": 1.3}}, "encoding": {"x": {"field": "s", "type": "quantitative"}, "y": {"field": "e", "type": "quantitative"}}},
  {"transform": [{"filter": "datum.k=='ws'"}], "mark": {"type": "rule", "color": "#2040ff", "strokeWidth": 2}, "encoding": {"x": {"field": "s", "type": "quantitative"}, "x2": {"field": "s2"}, "y": {"field": "e", "type": "quantitative"}}},
  {"transform": [{"filter": "datum.k=='eg'"}], "mark": {"type": "rule", "color": "#3a9d3a", "strokeWidth": 1.3}, "encoding": {"x": {"field": "s", "type": "quantitative"}, "x2": {"field": "s2"}, "y": {"field": "e", "type": "quantitative"}}},
  {"transform": [{"filter": "datum.k=='g'"}], "mark": {"type": "line", "color": "black", "strokeWidth": 1.3, "point": {"shape": "square", "filled": true, "color": "black", "size": 25}}, "encoding": {"x": {"field": "s", "type": "quantitative"}, "y": {"field": "e", "type": "quantitative"}}},
  {"transform": [{"filter": "datum.k=='lv'"}], "mark": {"type": "rule", "color": "#ff00ff", "strokeWidth": 1.3}, "encoding": {"x": {"field": "s", "type": "quantitative"}, "y": {"field": "e", "type": "quantitative"}, "y2": {"field": "e2"}}},
  {"transform": [{"filter": "datum.k=='lv'"}, {"fold": ["e", "e2"], "as": ["end", "ev"]}], "mark": {"type": "point", "shape": "square", "filled": true, "fill": "white", "stroke": "#ff00ff", "strokeWidth": 1.3, "size": 45, "opacity": 1}, "encoding": {"x": {"field": "s", "type": "quantitative"}, "y": {"field": "ev", "type": "quantitative"}}},
  {"transform": [{"filter": "datum.k=='b'"}], "mark": {"type": "point", "shape": "circle", "filled": true, "color": "#ff0000", "size": 42, "opacity": 1}, "encoding": {"x": {"field": "s", "type": "quantitative"}, "y": {"field": "e", "type": "quantitative"}}},
  {"transform": [{"filter": "datum.k=='nb'"}], "mark": {"type": "rule", "color": "black", "strokeWidth": 1.3}, "encoding": {"x": {"field": "s", "type": "quantitative"}, "y": {"field": "e", "type": "quantitative"}, "y2": {"field": "e2"}}},
  {"transform": [{"filter": "datum.k=='ns'"}], "mark": {"type": "rule", "color": "black", "strokeWidth": 1.3}, "encoding": {"x": {"field": "s", "type": "quantitative"}, "x2": {"field": "s2"}, "y": {"field": "e", "type": "quantitative"}}},
  {"transform": [{"filter": "datum.k=='ns'"}], "mark": {"type": "point", "shape": "M2,-1.3L0,0L2,1.3", "filled": false, "color": "black", "strokeWidth": 1.5, "size": 16, "opacity": 1}, "encoding": {"x": {"field": "s", "type": "quantitative"}, "y": {"field": "e", "type": "quantitative"}}},
  {"transform": [{"filter": "datum.k=='ns'"}], "mark": {"type": "point", "shape": "M-2,-1.3L0,0L-2,1.3", "filled": false, "color": "black", "strokeWidth": 1.5, "size": 16, "opacity": 1}, "encoding": {"x": {"field": "s2", "type": "quantitative"}, "y": {"field": "e", "type": "quantitative"}}},
  {"transform": [{"filter": "datum.k=='ns'"}, {"calculate": "(datum.s+datum.s2)/2", "as": "sm"}], "mark": {"type": "text", "fontSize": 8, "fill": "white", "stroke": "white", "strokeWidth": 7, "baseline": "middle"}, "encoding": {"x": {"field": "sm", "type": "quantitative"}, "y": {"field": "e", "type": "quantitative"}, "text": {"field": "n"}}},
  {"transform": [{"filter": "datum.k=='ns'"}, {"calculate": "(datum.s+datum.s2)/2", "as": "sm"}], "mark": {"type": "text", "fontSize": 8, "color": "black", "baseline": "middle"}, "encoding": {"x": {"field": "sm", "type": "quantitative"}, "y": {"field": "e", "type": "quantitative"}, "text": {"field": "n"}}},
  {"transform": [{"filter": "datum.k=='none'"}], "mark": {"type": "point", "filled": false, "opacity": 1, "strokeWidth": 1.2},
   "encoding": {
    "color": {"datum": "Bank Sta", "type": "nominal", "scale": {"domain": ["EG PF 1", "WS PF 1", "Crit PF 1", "Ground", "Levee", "Bank Sta"], "range": ["#3a9d3a", "#2040ff", "#ff3030", "#000000", "#ff00ff", "#ff0000"]}, "legend": {"title": "Legend", "legendX": 255, "legendY": 56}},
    "shape": {"datum": "Bank Sta", "type": "nominal", "scale": {"domain": ["EG PF 1", "WS PF 1", "Crit PF 1", "Ground", "Levee", "Bank Sta"], "range": ["M-1.7,-0.35H1.7", "M-1.7,-0.4H1.7M-1.7,-0.3H1.7", "M-1.7,-0.35H1.7M0,-0.55V-0.15", "M-1.7,-0.35H1.7M-0.2,-0.55H0.2V-0.15H-0.2ZM-0.1,-0.45H0.1V-0.25H-0.1Z", "M-1.7,-0.35H-0.25M0.25,-0.35H1.7M-0.25,-0.8H0.25V-0.35H-0.25Z", "M0.32,-0.4A0.32,0.32,0,1,1,-0.32,-0.4A0.32,0.32,0,1,1,0.32,-0.4ZM0.2,-0.4A0.2,0.2,0,1,1,-0.2,-0.4A0.2,0.2,0,1,1,0.2,-0.4ZM0.08,-0.4A0.08,0.08,0,1,1,-0.08,-0.4A0.08,0.08,0,1,1,0.08,-0.4Z"]}, "legend": {"title": "Legend", "legendX": 255, "legendY": 56}}}}
 ]},
{"width": 299, "height": 303,
 "title": {"text": "Afvoer Keting\u00a0\u00a0\u00a0\u00a0\u00a0\u00a0\u00a0\u00a0Plan: Desain 3\u00a0\u00a0\u00a0\u00a030/05/2016", "subtitle": "P.105"},
 "transform": [{"filter": "datum.p==6"}],
 "layer": [
  {"transform": [{"filter": "datum.k=='w'"}], "mark": {"type": "area", "color": "#00ffff", "opacity": 1},
   "encoding": {
    "x": {"field": "s", "type": "quantitative", "scale": {"domain": [0, 40], "range": [43, 255], "nice": false, "zero": false},
      "axis": {"title": "Station (m)", "offset": -45, "values": [0,1,2,3,4,5,6,7,8,9,10,11,12,13,14,15,16,17,18,19,20,21,22,23,24,25,26,27,28,29,30,31,32,33,34,35,36,37,38,39,40], "labelExpr": "datum.value % 10 === 0 ? format(datum.value,'d') : ''", "gridOpacity": {"condition": {"test": "datum.value % 10 === 0", "value": 1}, "value": 0}, "labelPadding": 10, "titleY": 35, "titleBaseline": "middle"}},
    "y": {"field": "e", "type": "quantitative", "scale": {"domain": [12, 15], "range": [258, 57], "nice": false, "zero": false},
      "axis": {"title": "Elevation  (m)", "titleFontSize": 11, "offset": -43, "values": [12,12.1,12.2,12.3,12.4,12.5,12.6,12.7,12.8,12.9,13,13.1,13.2,13.3,13.4,13.5,13.6,13.7,13.8,13.9,14,14.1,14.2,14.3,14.4,14.5,14.6,14.7,14.8,14.9,15], "labelExpr": "abs(datum.value*2-round(datum.value*2))<0.01 ? format(datum.value,'.1f') : ''", "gridOpacity": {"condition": {"test": "abs(datum.value*2-round(datum.value*2))<0.01", "value": 1}, "value": 0}, "labelPadding": 6, "titleX": -35, "titleBaseline": "middle"}},
    "y2": {"field": "e2"}}},
  {"transform": [{"filter": "datum.k=='c'"}], "mark": {"type": "line", "color": "#8a8a8a", "strokeWidth": 1.5, "point": {"shape": "M-1,0H1M0,-1V1", "filled": false, "color": "#ff0000", "size": 25, "strokeWidth": 1.3}}, "encoding": {"x": {"field": "s", "type": "quantitative"}, "y": {"field": "e", "type": "quantitative"}}},
  {"transform": [{"filter": "datum.k=='ws'"}], "mark": {"type": "rule", "color": "#2040ff", "strokeWidth": 2}, "encoding": {"x": {"field": "s", "type": "quantitative"}, "x2": {"field": "s2"}, "y": {"field": "e", "type": "quantitative"}}},
  {"transform": [{"filter": "datum.k=='eg'"}], "mark": {"type": "rule", "color": "#3a9d3a", "strokeWidth": 1.3}, "encoding": {"x": {"field": "s", "type": "quantitative"}, "x2": {"field": "s2"}, "y": {"field": "e", "type": "quantitative"}}},
  {"transform": [{"filter": "datum.k=='g'"}], "mark": {"type": "line", "color": "black", "strokeWidth": 1.3, "point": {"shape": "square", "filled": true, "color": "black", "size": 25}}, "encoding": {"x": {"field": "s", "type": "quantitative"}, "y": {"field": "e", "type": "quantitative"}}},
  {"transform": [{"filter": "datum.k=='lv'"}], "mark": {"type": "rule", "color": "#ff00ff", "strokeWidth": 1.3}, "encoding": {"x": {"field": "s", "type": "quantitative"}, "y": {"field": "e", "type": "quantitative"}, "y2": {"field": "e2"}}},
  {"transform": [{"filter": "datum.k=='lv'"}, {"fold": ["e", "e2"], "as": ["end", "ev"]}], "mark": {"type": "point", "shape": "square", "filled": true, "fill": "white", "stroke": "#ff00ff", "strokeWidth": 1.3, "size": 45, "opacity": 1}, "encoding": {"x": {"field": "s", "type": "quantitative"}, "y": {"field": "ev", "type": "quantitative"}}},
  {"transform": [{"filter": "datum.k=='b'"}], "mark": {"type": "point", "shape": "circle", "filled": true, "color": "#ff0000", "size": 42, "opacity": 1}, "encoding": {"x": {"field": "s", "type": "quantitative"}, "y": {"field": "e", "type": "quantitative"}}},
  {"transform": [{"filter": "datum.k=='nb'"}], "mark": {"type": "rule", "color": "black", "strokeWidth": 1.3}, "encoding": {"x": {"field": "s", "type": "quantitative"}, "y": {"field": "e", "type": "quantitative"}, "y2": {"field": "e2"}}},
  {"transform": [{"filter": "datum.k=='ns'"}], "mark": {"type": "rule", "color": "black", "strokeWidth": 1.3}, "encoding": {"x": {"field": "s", "type": "quantitative"}, "x2": {"field": "s2"}, "y": {"field": "e", "type": "quantitative"}}},
  {"transform": [{"filter": "datum.k=='ns'"}], "mark": {"type": "point", "shape": "M2,-1.3L0,0L2,1.3", "filled": false, "color": "black", "strokeWidth": 1.5, "size": 16, "opacity": 1}, "encoding": {"x": {"field": "s", "type": "quantitative"}, "y": {"field": "e", "type": "quantitative"}}},
  {"transform": [{"filter": "datum.k=='ns'"}], "mark": {"type": "point", "shape": "M-2,-1.3L0,0L-2,1.3", "filled": false, "color": "black", "strokeWidth": 1.5, "size": 16, "opacity": 1}, "encoding": {"x": {"field": "s2", "type": "quantitative"}, "y": {"field": "e", "type": "quantitative"}}},
  {"transform": [{"filter": "datum.k=='ns'"}, {"calculate": "(datum.s+datum.s2)/2", "as": "sm"}], "mark": {"type": "text", "fontSize": 8, "fill": "white", "stroke": "white", "strokeWidth": 7, "baseline": "middle"}, "encoding": {"x": {"field": "sm", "type": "quantitative"}, "y": {"field": "e", "type": "quantitative"}, "text": {"field": "n"}}},
  {"transform": [{"filter": "datum.k=='ns'"}, {"calculate": "(datum.s+datum.s2)/2", "as": "sm"}], "mark": {"type": "text", "fontSize": 8, "color": "black", "baseline": "middle"}, "encoding": {"x": {"field": "sm", "type": "quantitative"}, "y": {"field": "e", "type": "quantitative"}, "text": {"field": "n"}}},
  {"transform": [{"filter": "datum.k=='none'"}], "mark": {"type": "point", "filled": false, "opacity": 1, "strokeWidth": 1.2},
   "encoding": {
    "color": {"datum": "Bank Sta", "type": "nominal", "scale": {"domain": ["EG PF 1", "WS PF 1", "Crit PF 1", "Ground", "Levee", "Bank Sta"], "range": ["#3a9d3a", "#2040ff", "#ff3030", "#000000", "#ff00ff", "#ff0000"]}, "legend": {"title": "Legend", "legendX": 258, "legendY": 54}},
    "shape": {"datum": "Bank Sta", "type": "nominal", "scale": {"domain": ["EG PF 1", "WS PF 1", "Crit PF 1", "Ground", "Levee", "Bank Sta"], "range": ["M-1.7,-0.35H1.7", "M-1.7,-0.4H1.7M-1.7,-0.3H1.7", "M-1.7,-0.35H1.7M0,-0.55V-0.15", "M-1.7,-0.35H1.7M-0.2,-0.55H0.2V-0.15H-0.2ZM-0.1,-0.45H0.1V-0.25H-0.1Z", "M-1.7,-0.35H-0.25M0.25,-0.35H1.7M-0.25,-0.8H0.25V-0.35H-0.25Z", "M0.32,-0.4A0.32,0.32,0,1,1,-0.32,-0.4A0.32,0.32,0,1,1,0.32,-0.4ZM0.2,-0.4A0.2,0.2,0,1,1,-0.2,-0.4A0.2,0.2,0,1,1,0.2,-0.4ZM0.08,-0.4A0.08,0.08,0,1,1,-0.08,-0.4A0.08,0.08,0,1,1,0.08,-0.4Z"]}, "legend": {"title": "Legend", "legendX": 258, "legendY": 54}}}}
 ]}
]}
]
}
